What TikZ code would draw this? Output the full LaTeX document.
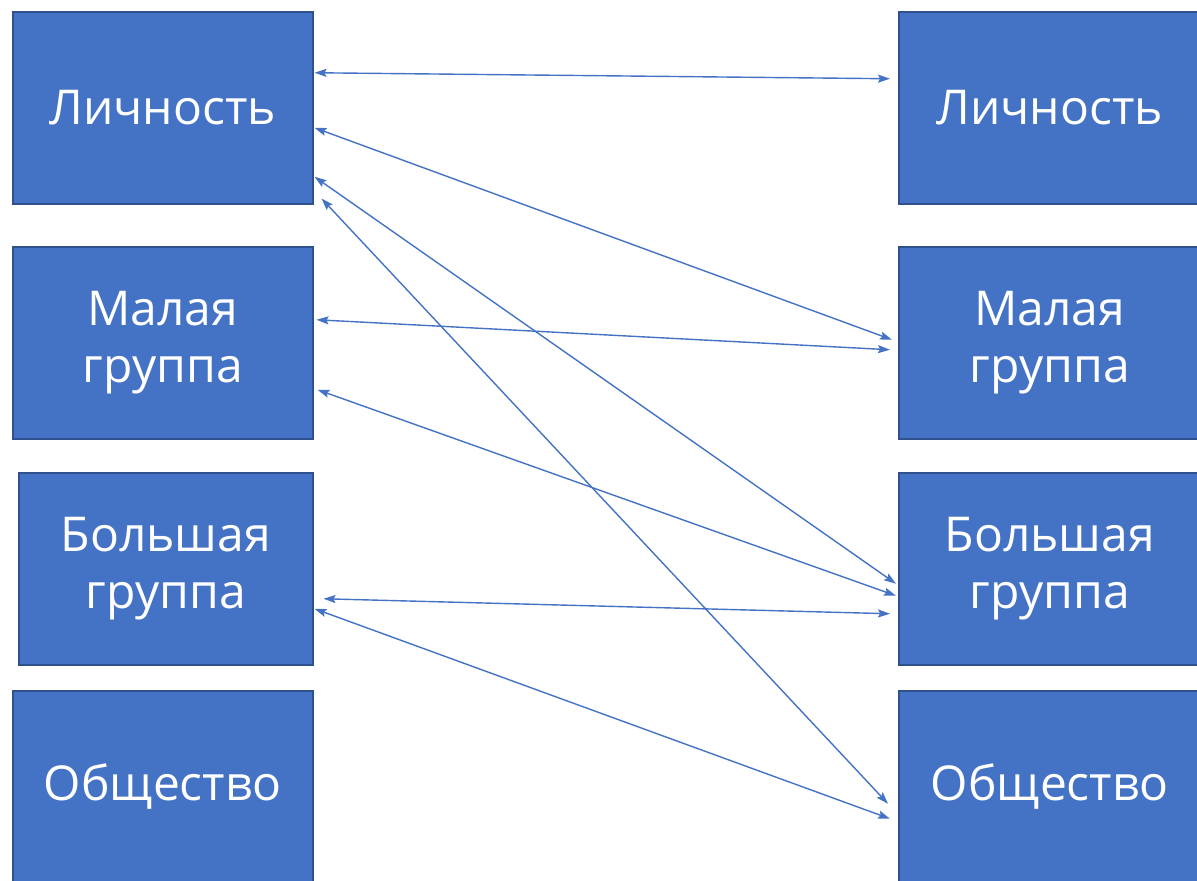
\documentclass[tikz,border=0pt]{standalone}
\usepackage{fontspec}
\setmainfont{Open Sans}
\usetikzlibrary{arrows.meta}
\definecolor{boxblue}{HTML}{4472C4}
\definecolor{boxedge}{HTML}{2F528F}
\begin{document}
\begin{tikzpicture}[
      x=1pt, y=-1pt,
      every node/.style = {shape=rectangle, draw=boxedge, fill=boxblue, line width=1.5pt,
                           text=white, align=center, anchor=north west,
                           font=\fontsize{48}{57}\selectfont},
      level box/.style = {minimum width=300pt, minimum height=192pt},
      link/.style = {draw=boxblue, line width=1.4pt, {Stealth[length=12pt,width=8pt,inset=2pt]}-{Stealth[length=12pt,width=8pt,inset=2pt]}}
      ]
      \useasboundingbox (0,0) rectangle (1197,881);
      % left column
      \node[level box] (lperson) at (12,11) {Личность};
      \node[level box] (lsmall) at (12,246) {Малая\\группа};
      \node[level box, minimum width=294pt] (lbig) at (18,472) {Большая\\группа};
      \node[level box] (lsociety) at (12,690) {Общество};
      % right column
      \node[level box, minimum width=302pt] (rperson) at (898,11) {Личность};
      \node[level box, minimum width=302pt] (rsmall) at (898,246) {Малая\\группа};
      \node[level box, minimum width=302pt] (rbig) at (898,472) {Большая\\группа};
      \node[level box, minimum width=302pt] (rsociety) at (898,690) {Общество};
      % links
      \draw[link] ([xshift=1pt,yshift=35pt]lperson.east) -- ([xshift=-8pt,yshift=29pt]rperson.west);
      \draw[link] ([xshift=1pt,yshift=-20pt]lperson.east) -- ([xshift=-6pt,yshift=3pt]rsmall.west);
      \draw[link] ([xshift=1pt,yshift=-69pt]lperson.east) -- ([xshift=-2pt,yshift=-15pt]rbig.west);
      \draw[link] ([xshift=8pt,yshift=6pt]lperson.south east) -- ([xshift=-10pt,yshift=-17pt]rsociety.west);
      \draw[link] ([xshift=3pt,yshift=23pt]lsmall.east) -- ([xshift=-8pt,yshift=-7pt]rsmall.west);
      \draw[link] ([xshift=4pt,yshift=-47pt]lsmall.east) -- ([xshift=-2pt,yshift=-27pt]rbig.west);
      \draw[link] ([xshift=10pt,yshift=-30pt]lbig.east) -- ([xshift=-8pt,yshift=-45pt]rbig.west);
      \draw[link] ([xshift=1pt,yshift=-40pt]lbig.east) -- ([xshift=-8pt,yshift=-32pt]rsociety.west);
\end{tikzpicture}
\end{document}
